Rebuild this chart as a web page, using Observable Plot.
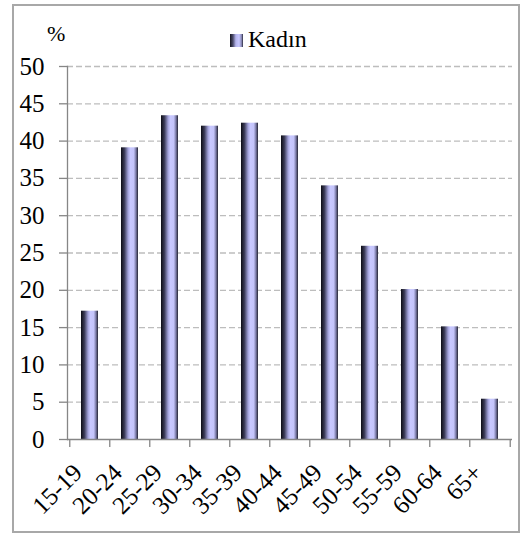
<!DOCTYPE html>
<html>
<head>
<meta charset="utf-8">
<script src="https://cdn.jsdelivr.net/npm/d3@7"></script>
<script src="https://cdn.jsdelivr.net/npm/@observablehq/plot@0.6"></script>
<style>
  html, body { margin: 0; padding: 0; background: #fff; }
  body { width: 521px; height: 534px; position: relative; overflow: hidden; font-family: serif; }
  #frame { position: absolute; left: 12px; top: 4px; width: 508px; height: 529px; box-sizing: border-box; border: 2px solid #a8a8a8; }
  #pct { position: absolute; left: 47px; top: 23px; font-size: 22px; line-height: 22px; color: #000; font-family: serif; }
  #legend { position: absolute; left: 230px; top: 27px; font-size: 24px; line-height: 24px; color: #000; font-family: serif; }
  #legend .sw { display: inline-block; width: 13px; height: 13px; margin-right: 5px; vertical-align: 0px;
    background: linear-gradient(to right, #15151f 0%, #4a4a6a 22%, #b4b4ec 45%, #c8c8ff 70%, #8a8ab8 88%, #2a2a3a 100%); }
  #chart { position: absolute; left: 14px; top: 50px; }
  svg text { font-family: serif; }
</style>
</head>
<body>
<div id="frame"></div>
<div id="pct">%</div>
<div id="legend"><span class="sw"></span><span id="legendLabel"></span></div>
<div id="chart"></div>
<script>
const seriesName = "Kadın";
const ageGroups = ["15-19", "20-24", "25-29", "30-34", "35-39", "40-44", "45-49", "50-54", "55-59", "60-64", "65+"];
const kadin = [17.2, 39.1, 43.4, 42.0, 42.4, 40.7, 34.0, 25.9, 20.1, 15.1, 5.4];
const yTicks = [0, 5, 10, 15, 20, 25, 30, 35, 40, 45, 50];

document.getElementById("legendLabel").textContent = seriesName;

const data = ageGroups.map((g, i) => ({age: g, value: kadin[i]}));

const W = 504, H = 481;
const mL = 53, mR = 6, mT = 16, mB = 92;
const step = (W - mL - mR) / ageGroups.length;
const axisColor = "#868686";

const defs = () => {
  const d = d3.create("svg:defs");
  const g = d.append("linearGradient").attr("id", "barGrad").attr("x1", "0").attr("x2", "1").attr("y1", "0").attr("y2", "0");
  [[0, "#0c0c14"], [0.2, "#3a3a56"], [0.42, "#a4a4dc"], [0.55, "#c8c8ff"], [0.75, "#c4c4fa"], [0.88, "#7a7aa6"], [1, "#222230"]]
    .forEach(([o, c]) => g.append("stop").attr("offset", o).attr("stop-color", c));
  return d.node();
};

const chart = Plot.plot({
  width: W,
  height: H,
  marginLeft: mL,
  marginRight: mR,
  marginTop: mT,
  marginBottom: mB,
  style: "font-family: serif; color: #000; background: transparent;",
  x: {domain: ageGroups, paddingInner: 0.58, paddingOuter: 0.29, label: null},
  y: {domain: [0, 50], label: null},
  marks: [
    defs,
    Plot.gridY(yTicks.filter(t => t > 0), {stroke: "#bdbdbd", strokeOpacity: 1, strokeWidth: 1.3, strokeDasharray: "6,3"}),
    Plot.barY(data, {x: "age", y: "value", fill: "url(#barGrad)"}),
    Plot.frame({anchor: "left", stroke: axisColor, strokeWidth: 1.3}),
    Plot.ruleY([0], {stroke: axisColor, strokeWidth: 1.3}),
    Plot.ruleX(ageGroups, {x: d => d, y1: 0, y2: 0, insetBottom: -8, dx: -step / 2, stroke: axisColor, strokeWidth: 1.3}),
    Plot.ruleX(ageGroups.slice(-1), {x: d => d, y1: 0, y2: 0, insetBottom: -8, dx: step / 2, stroke: axisColor, strokeWidth: 1.3}),
    Plot.axisY(yTicks, {tickSize: 8, tickPadding: 15, stroke: axisColor, strokeWidth: 1.3, fontSize: 25, label: null, fill: "#000"}),
    Plot.axisX({tickSize: 0, tickRotate: -45, tickPadding: 29, dx: -12, textAnchor: "end", lineAnchor: "middle", fontSize: 25, label: null, fill: "#000"})
  ]
});
chart.querySelectorAll("text").forEach(el => el.setAttribute("font-family", "serif"));
document.getElementById("chart").appendChild(chart);
</script>
</body>
</html>
